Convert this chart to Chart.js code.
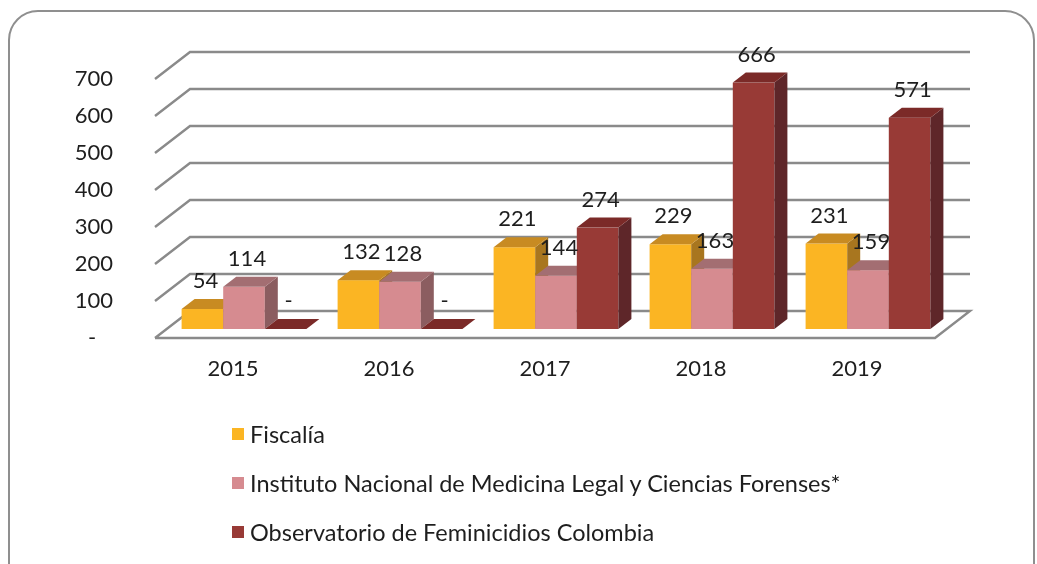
<!DOCTYPE html>
<html>
<head>
<meta charset="utf-8">
<script src="https://cdn.jsdelivr.net/npm/chart.js@4"></script>
<style>
  html, body { margin: 0; padding: 0; background: #fff; overflow: hidden; }
  #wrap { position: relative; width: 1037px; height: 564px; }
  #frame { position: absolute; left: 8px; top: 10px; width: 1027px; height: 620px;
           border: 2px solid #8f8f8f; border-radius: 30px; box-sizing: border-box; }
  #legend { position: absolute; left: 232px; top: 0; font-family: Lato, sans-serif;
            font-size: 23.5px; color: #1e1e1e; }
  .item { position: absolute; left: 0; white-space: nowrap; display: flex; align-items: center; }
  .box { width: 12px; height: 12px; margin-right: 6px; }
</style>
</head>
<body>
<div id="wrap">
  <div id="frame"></div>
  <canvas id="chart" width="1037" height="564"></canvas>
  <div id="legend"></div>
</div>
<script>
const years = ['2015', '2016', '2017', '2018', '2019'];
const seriesNames = [
  'Fiscalía',
  'Instituto Nacional de Medicina Legal y Ciencias Forenses*',
  'Observatorio de Feminicidios Colombia'
];
const fiscalia = [54, 132, 221, 229, 231];
const medicinaLegal = [114, 128, 144, 163, 159];
const observatorio = [0, 0, 274, 666, 571];
const yTicks = [0, 100, 200, 300, 400, 500, 600, 700];

// front / top / side shades for the 3D bars
const shades = [
  ['#FBB523', '#C88B22', '#A8761F'],
  ['#D68B90', '#A36E72', '#8B5D60'],
  ['#983A36', '#7B2A28', '#5E2629']
];

// depth offsets
const FLOOR_DX = 35, FLOOR_DY = -27;
const BAR_DX = 11, BAR_DY = -9;
const DEPTH_DX = 13, DEPTH_DY = -10;

const fontFamily = 'Lato, sans-serif';

const bars3d = {
  id: 'bars3d',
  beforeDatasetsDraw(chart) {
    const ctx = chart.ctx;
    const area = chart.chartArea;
    const y = chart.scales.y;
    ctx.save();

    // walls / grid
    ctx.strokeStyle = '#8a8a8a';
    ctx.lineWidth = 2.4;
    yTicks.forEach(v => {
      const py = y.getPixelForValue(v);
      ctx.beginPath();
      ctx.moveTo(area.left, py);
      ctx.lineTo(area.left + FLOOR_DX, py + FLOOR_DY);
      ctx.lineTo(area.right + FLOOR_DX, py + FLOOR_DY);
      if (v === 0) {
        ctx.lineTo(area.right, py);
        ctx.lineTo(area.left, py);
      }
      ctx.stroke();
    });

    // bars, category by category
    const metas = chart.data.datasets.map((d, i) => chart.getDatasetMeta(i));
    years.forEach((yr, ci) => {
      metas.forEach((meta, di) => {
        const el = meta.data[ci];
        const c = shades[di];
        const x0 = el.x - el.width / 2 + BAR_DX;
        const x1 = el.x + el.width / 2 + BAR_DX;
        const top = el.y + BAR_DY;
        const bot = el.base + BAR_DY;
        // front
        if (bot - top > 0.5) {
          ctx.fillStyle = c[0];
          ctx.fillRect(x0, top, x1 - x0, bot - top);
        }
        // side
        ctx.fillStyle = c[2];
        ctx.beginPath();
        ctx.moveTo(x1, top);
        ctx.lineTo(x1 + DEPTH_DX, top + DEPTH_DY);
        ctx.lineTo(x1 + DEPTH_DX, bot + DEPTH_DY);
        ctx.lineTo(x1, bot);
        ctx.closePath();
        ctx.fill();
        // top
        ctx.fillStyle = c[1];
        ctx.beginPath();
        ctx.moveTo(x0, top);
        ctx.lineTo(x0 + DEPTH_DX, top + DEPTH_DY);
        ctx.lineTo(x1 + DEPTH_DX, top + DEPTH_DY);
        ctx.lineTo(x1, top);
        ctx.closePath();
        ctx.fill();
      });
    });

    // value labels
    ctx.fillStyle = '#1e1e1e';
    ctx.font = '22px ' + fontFamily;
    ctx.textAlign = 'center';
    ctx.textBaseline = 'middle';
    metas.forEach((meta, di) => {
      const values = chart.data.datasets[di].data;
      meta.data.forEach((el, ci) => {
        const v = values[ci];
        ctx.fillText(v === 0 ? '-' : String(v), el.x + BAR_DX + 3, el.y + BAR_DY - 28);
      });
    });

    ctx.restore();
    return false;
  }
};

const chart = new Chart(document.getElementById('chart'), {
  type: 'bar',
  data: {
    labels: years,
    datasets: [
      { label: seriesNames[0], data: fiscalia, backgroundColor: shades[0][0] },
      { label: seriesNames[1], data: medicinaLegal, backgroundColor: shades[1][0] },
      { label: seriesNames[2], data: observatorio, backgroundColor: shades[2][0] }
    ]
  },
  options: {
    responsive: false,
    animation: false,
    layout: { padding: { left: 0, top: 79, right: 102, bottom: 166 } },
    datasets: { bar: { categoryPercentage: 0.8, barPercentage: 1 } },
    plugins: { legend: { display: false }, tooltip: { enabled: false } },
    scales: {
      x: {
        grid: { display: false, drawTicks: false },
        border: { display: false },
        ticks: { color: '#1e1e1e', font: { family: fontFamily, size: 22 }, padding: 18 },
        afterFit(scale) { scale.height = 60; }
      },
      y: {
        min: 0,
        max: 700,
        grid: { display: false, drawTicks: false },
        border: { display: false },
        ticks: {
          stepSize: 100,
          padding: 42,
          color: '#1e1e1e',
          font: { family: fontFamily, size: 22 },
          callback: v => v === 0 ? '-   ' : v
        },
        afterFit(scale) { scale.width = 155; }
      }
    }
  },
  plugins: [bars3d]
});

// legend as html
const legend = document.getElementById('legend');
const rowCenters = [434, 483, 532];
seriesNames.forEach((name, i) => {
  const item = document.createElement('div');
  item.className = 'item';
  item.style.top = (rowCenters[i] - 14) + 'px';
  item.style.height = '28px';
  item.innerHTML = '<span class="box" style="background:' + shades[i][0] + '"></span><span>' + name + '</span>';
  legend.appendChild(item);
});
</script>
</body>
</html>
